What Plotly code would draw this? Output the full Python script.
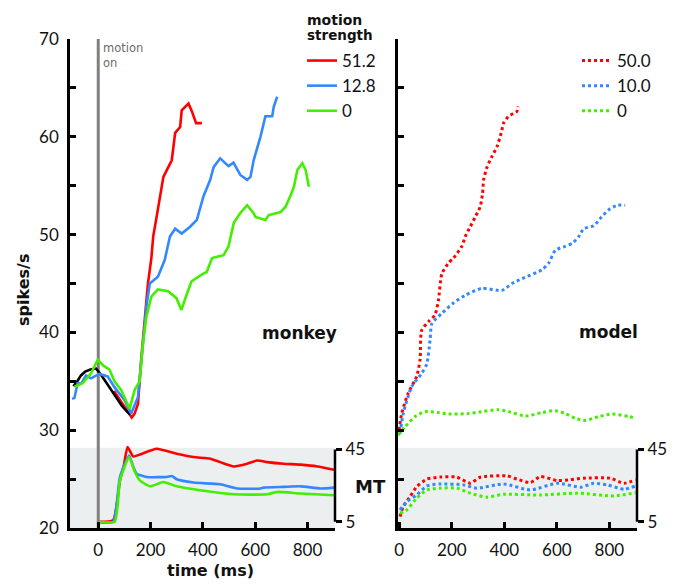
import plotly.graph_objects as go

# ---------------- data ----------------
# monkey (left panel), spikes/s vs time (ms)
monkey_black_t = [-95, -80, -66, -50, -30, -8, 10, 30, 50, 70, 90, 110, 122]
monkey_black_y = [34.5, 35.0, 35.6, 36.0, 36.2, 36.3, 35.7, 34.9, 34.1, 33.3, 32.5, 31.9, 31.6]

monkey_red_t = [60, 80, 100, 115, 128, 139, 152, 164, 177, 190, 203, 210, 223, 236, 249, 262, 281, 294, 313, 319, 345, 358, 374, 396]
monkey_red_y = [34.0, 33.2, 32.4, 31.8, 31.3, 31.7, 32.7, 37.2, 41.5, 45.0, 47.6, 49.8, 51.8, 53.9, 55.9, 56.6, 57.6, 60.4, 61.0, 62.7, 63.4, 62.6, 61.4, 61.4]

monkey_blue_t = [-100, -91, -79, -64, -47, -28, 5, 36, 62, 100, 126, 152, 168, 184, 197, 228, 254, 274, 294, 319, 351, 377, 402, 428, 441, 466, 498, 517, 543, 569, 582, 594, 620, 639, 665, 671, 684]
monkey_blue_y = [33.2, 33.3, 34.8, 34.8, 35.6, 35.3, 35.75, 35.5, 34.4, 33.1, 31.7, 33.4, 38.0, 42.6, 45.0, 45.7, 47.4, 49.8, 50.6, 50.1, 50.8, 51.5, 53.9, 55.6, 56.9, 57.8, 57.0, 57.35, 56.1, 55.6, 55.9, 57.6, 60.0, 62.1, 62.1, 63.1, 64.1]

monkey_green_t = [-91, -60, -28, -2, 20, 43, 62, 88, 120, 139, 158, 171, 184, 203, 228, 267, 299, 318, 337, 356, 395, 415, 435, 479, 498, 518, 543, 569, 594, 601, 639, 652, 697, 716, 735, 748, 761, 780, 793, 805]
monkey_green_y = [34.45, 34.8, 35.8, 37.2, 36.6, 36.2, 35.0, 34.1, 32.2, 34.1, 35.0, 38.9, 41.6, 43.65, 44.4, 44.2, 43.5, 42.3, 43.8, 45.2, 45.9, 46.2, 47.6, 47.9, 48.8, 51.2, 52.2, 53.0, 52.2, 51.8, 51.5, 52.0, 52.3, 52.85, 54.0, 54.9, 56.6, 57.3, 56.6, 54.9]

# monkey MT (inset, spikes/s on 5-45 scale)
mt_monkey_red_t = [-1, 57, 83, 98, 112, 134, 159, 223, 300, 364, 428, 466, 518, 569, 607, 646, 709, 774, 838, 901]
mt_monkey_red_v = [5.0, 5.9, 27.9, 36.2, 46.3, 41.1, 42.2, 45.4, 42.6, 40.8, 39.9, 38.0, 35.6, 37.1, 38.9, 38.0, 37.1, 36.6, 35.6, 33.8]
mt_monkey_blue_t = [0, 57, 83, 118, 134, 147, 185, 262, 281, 300, 364, 466, 531, 620, 633, 709, 774, 850, 901]
mt_monkey_blue_v = [4.8, 5.0, 29.8, 41.7, 35.3, 31.6, 29.8, 29.8, 30.3, 28.5, 26.7, 25.7, 23.4, 23.4, 23.9, 24.3, 24.6, 23.4, 23.9]
mt_monkey_green_t = [0, 63, 83, 118, 140, 159, 198, 249, 300, 390, 518, 646, 684, 774, 901]
mt_monkey_green_v = [5.0, 5.0, 27.9, 40.8, 32.5, 27.9, 24.6, 27.0, 24.6, 22.4, 20.2, 20.2, 21.5, 20.6, 19.7]

# model (right panel)
model_red_t = [-1, 9, 34, 66, 79, 85, 111, 136, 149, 162, 187, 206, 238, 251, 270, 289, 308, 317, 321, 334, 353, 372, 388, 397, 416, 448, 452]
model_red_y = [30.0, 31.7, 33.8, 35.5, 37.2, 40.2, 41.1, 41.8, 43.3, 46.0, 47.1, 47.6, 48.8, 49.8, 50.8, 51.8, 52.85, 54.2, 55.6, 56.9, 58.0, 59.0, 60.4, 61.4, 62.1, 62.6, 63.1]
model_blue_t = [3, 15, 47, 85, 105, 117, 124, 162, 206, 251, 314, 391, 429, 467, 543, 569, 594, 632, 658, 683, 702, 740, 770, 800, 830, 860]
model_blue_y = [29.7, 31.7, 34.45, 35.8, 36.8, 39.2, 40.9, 41.95, 43.0, 43.8, 44.5, 44.3, 45.0, 45.5, 46.4, 47.1, 48.4, 48.8, 49.1, 49.8, 50.6, 50.9, 51.8, 52.6, 53.0, 53.0]
model_green_t = [-4, 22, 60, 98, 149, 187, 263, 314, 378, 416, 480, 543, 594, 632, 671, 709, 760, 811, 874, 900]
model_green_y = [29.5, 30.35, 31.4, 31.9, 31.8, 31.65, 31.7, 31.9, 32.1, 31.9, 31.45, 31.8, 32.0, 31.7, 31.2, 31.0, 31.4, 31.65, 31.4, 31.2]

mt_model_red_t = [3, 15, 41, 66, 105, 155, 219, 270, 308, 410, 448, 499, 537, 601, 652, 702, 804, 855, 900]
mt_model_red_v = [7.8, 13.3, 18.9, 24.4, 28.6, 29.7, 29.7, 26.3, 29.6, 30.4, 28.6, 26.7, 30.0, 27.8, 28.3, 29.1, 29.1, 26.3, 28.2]
mt_model_blue_t = [3, 28, 66, 105, 155, 244, 295, 397, 499, 601, 690, 740, 792, 855, 900]
mt_model_blue_v = [11.5, 16.1, 19.8, 24.8, 25.9, 25.4, 23.6, 25.9, 22.6, 26.3, 24.1, 26.3, 25.4, 23.0, 24.8]
mt_model_green_t = [3, 28, 66, 105, 155, 219, 270, 334, 397, 537, 677, 817, 900]
mt_model_green_v = [9.7, 11.5, 18.0, 22.6, 23.6, 23.6, 20.8, 18.6, 20.2, 19.8, 20.8, 19.3, 21.1]

monkey_labels = ["51.2", "12.8", "0"]
model_labels = ["50.0", "10.0", "0"]
x_ticks = [0, 200, 400, 600, 800]
y_ticks = [20, 25, 30, 35, 40, 45, 50, 55, 60, 65, 70]
y_tick_labels = ["20", "", "30", "", "40", "", "50", "", "60", "", "70"]
mt_ticks = [5, 45]

# ---------------- style ----------------
FONT = "Lato"
BOLD = "DejaVu Sans"
RED, BLUE, GREEN = "#ff0000", "#3388ff", "#44ee00"
GRAY_LINE = "#808080"
SHADE = "#ebefef"
W, H = 661, 572          # page has an 8px body margin; keep figure inside the viewport
OFF = 8


def PX(x):
    return (x - OFF) / W


def PY(y):
    return 1 - (y - OFF) / H


# mapping of MT scale onto main axis: MT 5 -> 20.64, MT 45 -> 28.03
mt_y5, mt_y45 = 20.64, 28.03
slope = (mt_y45 - mt_y5) / 40.0
mt_range = [5 - (mt_y5 - 20) / slope, 5 + (70 - mt_y5) / slope]

fig = go.Figure()

# left panel
fig.add_trace(go.Scatter(x=monkey_red_t, y=monkey_red_y, mode="lines", line=dict(color=RED, width=2.6),
                         name=monkey_labels[0], legend="legend", xaxis="x", yaxis="y"))
fig.add_trace(go.Scatter(x=monkey_black_t, y=monkey_black_y, mode="lines", line=dict(color="black", width=2.6),
                         showlegend=False, xaxis="x", yaxis="y"))
fig.add_trace(go.Scatter(x=monkey_blue_t, y=monkey_blue_y, mode="lines", line=dict(color=BLUE, width=2.6),
                         name=monkey_labels[1], legend="legend", xaxis="x", yaxis="y"))
fig.add_trace(go.Scatter(x=monkey_green_t, y=monkey_green_y, mode="lines", line=dict(color=GREEN, width=2.6),
                         name=monkey_labels[2], legend="legend", xaxis="x", yaxis="y"))
for t, v, c in [(mt_monkey_red_t, mt_monkey_red_v, RED), (mt_monkey_blue_t, mt_monkey_blue_v, BLUE),
                (mt_monkey_green_t, mt_monkey_green_v, GREEN)]:
    fig.add_trace(go.Scatter(x=t, y=v, mode="lines", line=dict(color=c, width=2.6, shape="spline", smoothing=0.5),
                             showlegend=False, xaxis="x", yaxis="y3"))

# right panel
for t, y, c, nm in [(model_red_t, model_red_y, RED, model_labels[0]),
                    (model_blue_t, model_blue_y, BLUE, model_labels[1]),
                    (model_green_t, model_green_y, GREEN, model_labels[2])]:
    fig.add_trace(go.Scatter(x=t, y=y, mode="lines", line=dict(color=c, width=3, dash="3px,3px", shape="spline", smoothing=0.6),
                             name=nm, legend="legend2", xaxis="x2", yaxis="y2"))
for t, v, c in [(mt_model_red_t, mt_model_red_v, RED), (mt_model_blue_t, mt_model_blue_v, BLUE),
                (mt_model_green_t, mt_model_green_v, GREEN)]:
    fig.add_trace(go.Scatter(x=t, y=v, mode="lines", line=dict(color=c, width=3, dash="3px,3px", shape="spline", smoothing=0.6),
                             showlegend=False, xaxis="x2", yaxis="y4"))

axis_common = dict(showline=True, linecolor="black", linewidth=2.5, ticks="inside", ticklen=6,
                   tickwidth=2.5, tickcolor="black", showgrid=False, zeroline=False, automargin=False,
                   tickfont=dict(size=17, color="#111"))
mt_axis = dict(range=mt_range, tickvals=mt_ticks, side="right", showline=False, ticks="outside",
               ticklen=6, tickwidth=2.5, tickcolor="black", showgrid=False, zeroline=False,
               automargin=False, tickfont=dict(size=17, color="#111"))
y_dom = [PY(528), PY(39)]


def label(text, x, y, size, angle=0):
    return dict(text=text, xref="paper", yref="paper", x=PX(x), y=PY(y), xanchor="center",
                yanchor="middle", showarrow=False, textangle=angle, borderpad=0,
                font=dict(family=BOLD, size=size, color="#111"))


fig.update_layout(
    width=W, height=H, margin=dict(l=0, r=0, t=0, b=0, autoexpand=False),
    plot_bgcolor="white", paper_bgcolor="white",
    font=dict(family=FONT, size=17, color="#111"),
    xaxis=dict(domain=[PX(70), PX(335)], range=[-108, 905], tickvals=x_ticks, anchor="y",
               ticklabelstandoff=5, **axis_common),
    yaxis=dict(domain=y_dom, range=[20, 70], tickvals=y_ticks, ticktext=y_tick_labels, anchor="x",
               ticklabelstandoff=5, **axis_common),
    xaxis2=dict(domain=[PX(398), PX(637)], range=[-5, 905], tickvals=x_ticks, anchor="y2",
                ticklabelstandoff=5, **axis_common),
    yaxis2=dict(domain=y_dom, range=[20, 70], tickvals=y_ticks, showticklabels=False, anchor="x2", **axis_common),
    yaxis3=dict(overlaying="y", anchor="x", **mt_axis),
    yaxis4=dict(overlaying="y2", anchor="x2", **mt_axis),
    legend=dict(x=PX(302), y=PY(43), xanchor="left", yanchor="top",
                font=dict(size=17), bgcolor="rgba(0,0,0,0)", tracegroupgap=0),
    legend2=dict(x=PX(577), y=PY(43), xanchor="left", yanchor="top",
                 font=dict(size=17), bgcolor="rgba(0,0,0,0)", tracegroupgap=0),
    shapes=[
        dict(type="rect", xref="x domain", yref="y", x0=0, x1=1, y0=20, y1=28.2,
             fillcolor=SHADE, line=dict(width=0), layer="below"),
        dict(type="rect", xref="x2 domain", yref="y2", x0=0, x1=1, y0=20, y1=28.2,
             fillcolor=SHADE, line=dict(width=0), layer="below"),
        dict(type="line", xref="x", yref="y", x0=0, x1=0, y0=20, y1=70,
             line=dict(color=GRAY_LINE, width=3), layer="below"),
        dict(type="line", xref="x domain", yref="y3", x0=1, x1=1, y0=5, y1=45,
             line=dict(color="black", width=2.5)),
        dict(type="line", xref="x2 domain", yref="y4", x0=1, x1=1, y0=5, y1=45,
             line=dict(color="black", width=2.5)),
    ],
    annotations=[
        dict(text="motion<br>on", xref="x", yref="y", x=0, y=70, xanchor="left", yanchor="top",
             xshift=3, showarrow=False, align="left", font=dict(family="DejaVu Sans", size=11.5, color="#6a6a6a")),
        dict(text="<b>motion</b>", xref="paper", yref="paper", x=PX(306), y=PY(20), xanchor="left",
             yanchor="middle", borderpad=0, showarrow=False, font=dict(family=BOLD, size=14, color="#111")),
        dict(text="<b>strength</b>", xref="paper", yref="paper", x=PX(306), y=PY(35), xanchor="left",
             yanchor="middle", borderpad=0, showarrow=False, font=dict(family=BOLD, size=13.5, color="#111")),
        label("<b>monkey</b>", 299, 333, 17),
        label("<b>model</b>", 608, 332, 17),
        label("<b>MT</b>", 370, 486, 18),
        label("<b>time (ms)</b>", 210, 570, 16),
        label("<b>spikes/s</b>", 23, 290, 16, angle=-90),
    ],
)

fig.write_html("out.html")
